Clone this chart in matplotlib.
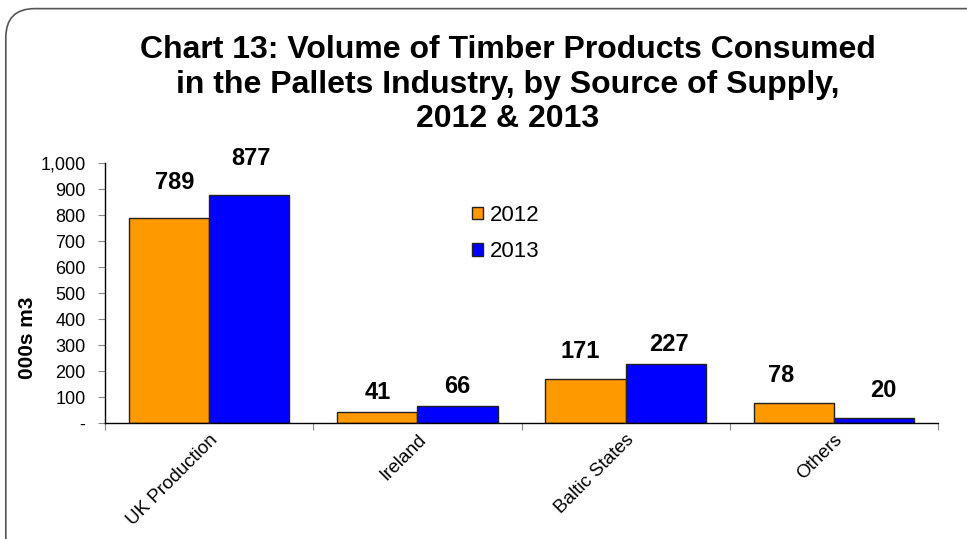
import matplotlib.pyplot as plt
import numpy as np
from matplotlib.patches import FancyBboxPatch
from matplotlib.ticker import FuncFormatter

plt.rcParams['font.family'] = ['Liberation Sans', 'DejaVu Sans']

categories = ["UK Production", "Ireland", "Baltic States", "Others"]
years = ["2012", "2013"]
vol_2012 = [789, 41, 171, 78]
vol_2013 = [877, 66, 227, 20]
colors = ["#FF9900", "#0000FF"]

# hand-placed value-label nudges (points), per series
label_dx = [[4, 0, -4, -9], [1, 0, 2, 7]]
label_dy = [[17, 6, 11.5, 11.5], [18, 6, 6, 11.5]]

fig = plt.figure(figsize=(9.67, 5.39), dpi=100)

# rounded chart frame, drawn beneath the axes
frame = FancyBboxPatch((0.006, -0.05), 1.05, 1.034,
                       boxstyle="round,pad=0,rounding_size=0.03",
                       transform=fig.transFigure, facecolor="white",
                       edgecolor="#555555", linewidth=1.2, zorder=-10,
                       mutation_aspect=967/539)
fig.patches.append(frame)

ax = fig.add_axes([105/967, 1 - 423/539, (938 - 105)/967, (423 - 163)/539])
ax.set_facecolor("none")
ax.set_zorder(5)

x = np.arange(len(categories))
w = 0.385
series = [vol_2012, vol_2013]
for i, (vals, col, yr) in enumerate(zip(series, colors, years)):
    pos = x + (i - 0.5) * w
    bars = ax.bar(pos, vals, width=w, color=col, edgecolor="#222222",
                  linewidth=1.0, label=yr, zorder=2)
    for j, (b, v) in enumerate(zip(bars, vals)):
        ax.annotate(f"{v}", (b.get_x() + b.get_width() / 2, v),
                    xytext=(label_dx[i][j], label_dy[i][j]),
                    textcoords="offset points",
                    ha="center", va="bottom", fontsize=17,
                    fontweight="bold")

ax.set_xlim(-0.5, len(categories) - 0.5)
ax.set_ylim(0, 1000)
ax.set_yticks(np.arange(0, 1001, 100))
ax.yaxis.set_major_formatter(FuncFormatter(lambda v, p: "-" if v == 0 else f"{int(v):,}"))
ax.set_xticks(np.arange(-0.5, len(categories) + 0.5, 1))
ax.set_xticklabels([])
ax.set_xticks(x, minor=True)
ax.set_xticklabels(categories, minor=True, rotation=45, ha="right",
                   rotation_mode="anchor", fontsize=13.5)
ax.tick_params(axis="x", which="minor", length=0, pad=6)
ax.tick_params(axis="x", which="major", length=5, color="#888888")
ax.tick_params(axis="y", length=5, color="#888888", labelsize=13, pad=9)

for s in ["top", "right"]:
    ax.spines[s].set_visible(False)
ax.spines["left"].set_linewidth(1.0)
ax.spines["bottom"].set_linewidth(1.0)

ax.set_ylabel("000s m3", fontsize=15, fontweight="bold")
ax.yaxis.set_label_coords(-0.082, 0.327)

leg = ax.legend(loc="upper left", bbox_to_anchor=(0.430, 0.873), frameon=False,
                fontsize=16, handlelength=0.5, handleheight=0.5,
                handletextpad=0.3, labelspacing=0.7, borderaxespad=0)
for h in leg.legend_handles:
    h.set_edgecolor("#222222")

fig.text(0.525, 0.935, "Chart 13: Volume of Timber Products Consumed\n"
         "in the Pallets Industry, by Source of Supply,\n2012 & 2013",
         ha="center", va="top", fontsize=23, fontweight="bold",
         linespacing=1.2)

fig.savefig("out.png", dpi=100)
